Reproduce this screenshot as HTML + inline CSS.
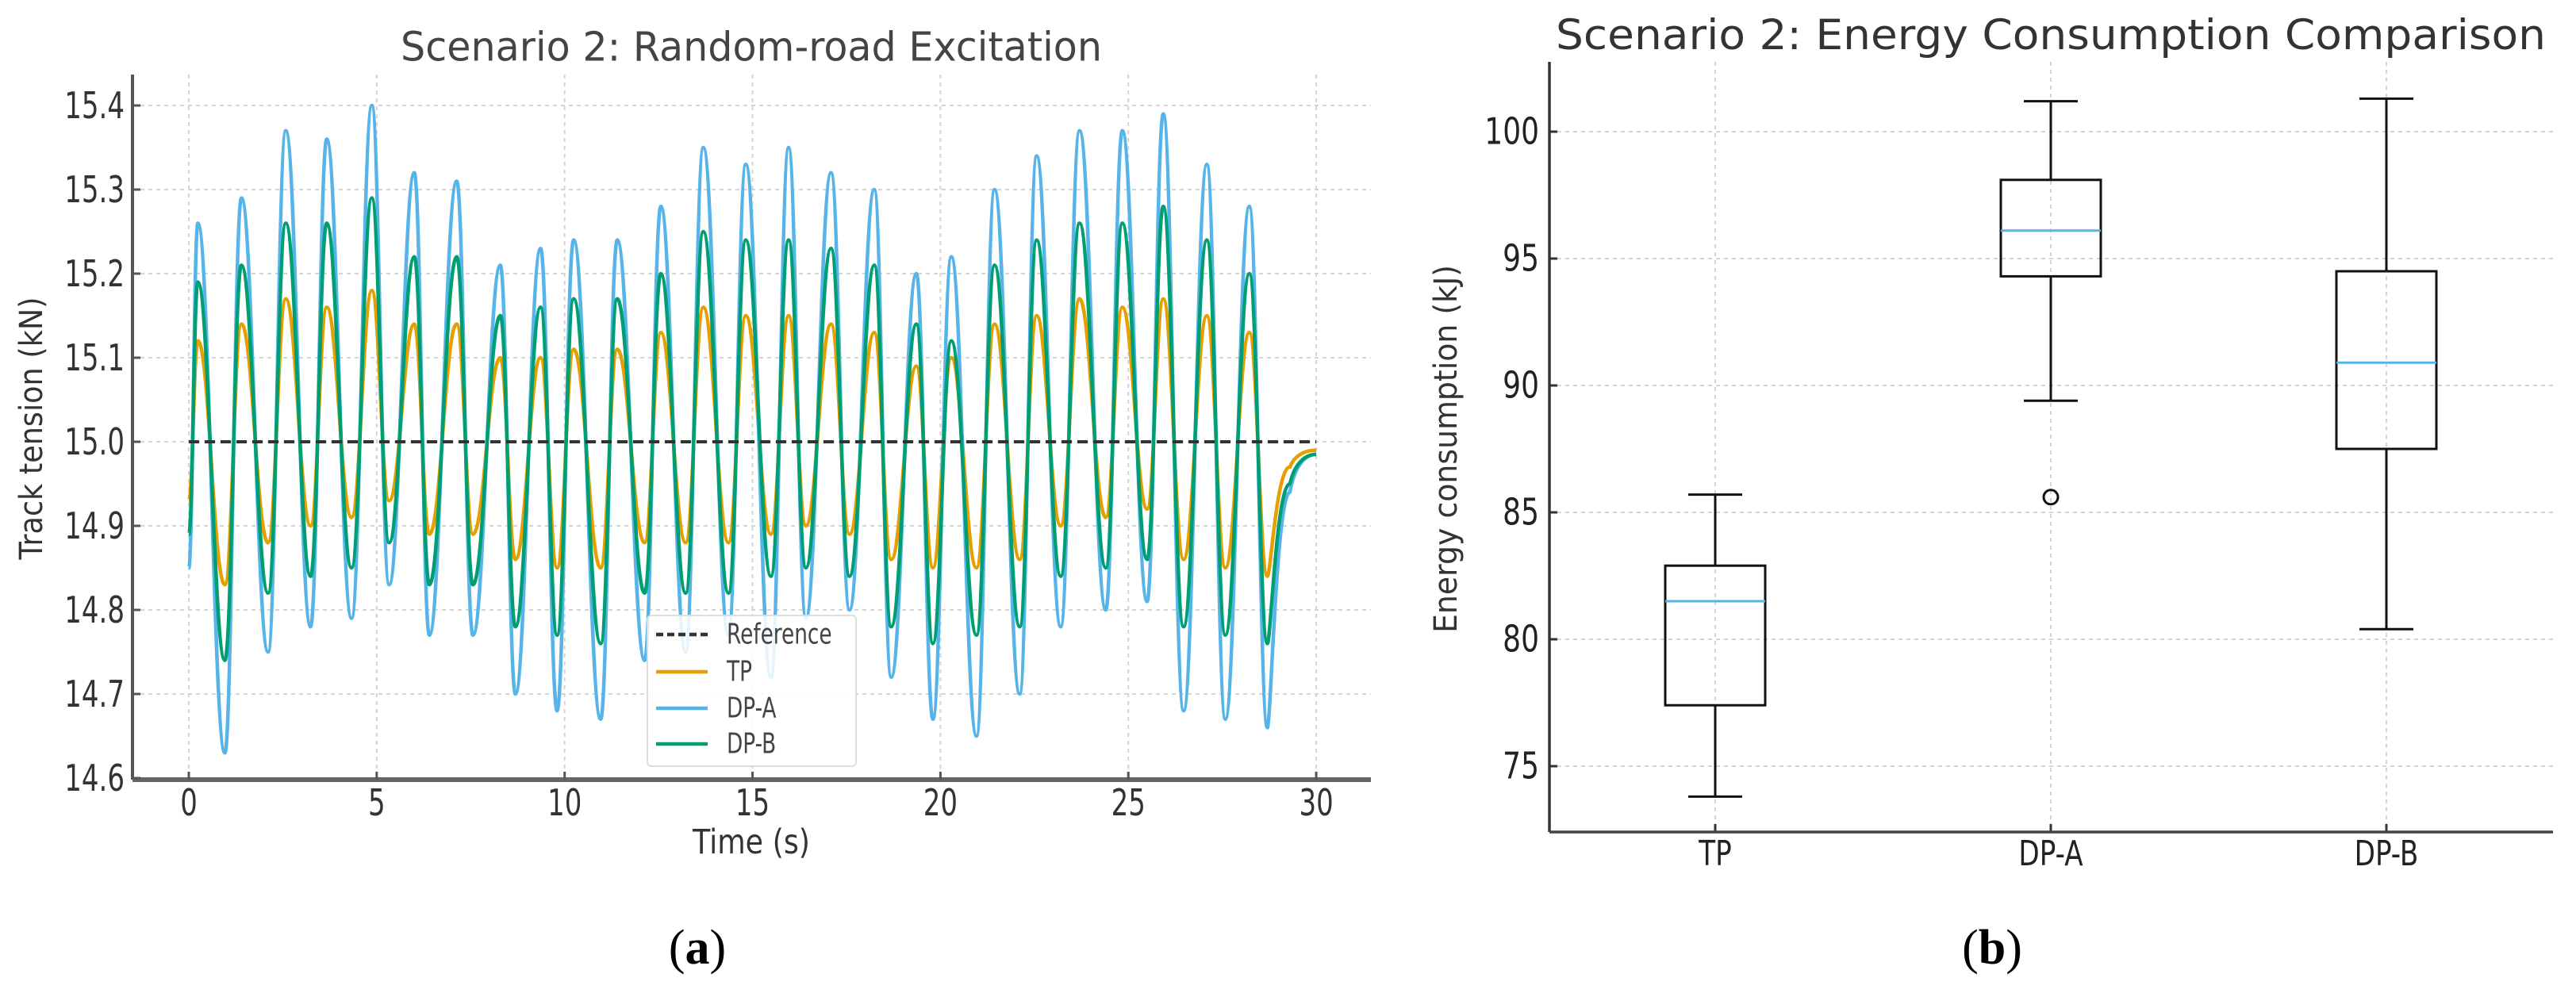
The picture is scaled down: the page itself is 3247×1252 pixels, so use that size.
<!DOCTYPE html>
<html><head><meta charset="utf-8"><style>
html,body{margin:0;padding:0;background:#fff;}
svg{display:block;}
</style></head><body>
<svg id="fig" width="3247" height="1252" viewBox="0 0 3247 1252" xmlns="http://www.w3.org/2000/svg" font-family="DejaVu Sans, Liberation Sans, sans-serif">
<g id="left"></g>
<g id="right"></g>
</svg>
<script>
// ---------- Chart (a) data ----------
const xTicksL = [0,5,10,15,20,25,30];
const yTicksL = [14.6,14.7,14.8,14.9,15.0,15.1,15.2,15.3,15.4];
const yTickLabelsL = ["14.6","14.7","14.8","14.9","15.0","15.1","15.2","15.3","15.4"];
const refValue = 15.0;
const peakTimes = [0.24,1.4,2.58,3.67,4.87,6.0,7.13,8.29,9.36,10.24,11.4,12.56,13.69,14.82,15.96,17.09,18.24,19.36,20.29,21.44,22.56,23.7,24.84,25.93,27.09,28.22];
const troughTimes = [0.96,2.11,3.24,4.33,5.33,6.4,7.56,8.69,9.8,10.96,12.13,13.22,14.36,15.49,16.42,17.58,18.69,19.8,20.96,22.11,23.2,24.4,25.5,26.47,27.58,28.7];
const tailTimes = [29.3,30];
const tpPeaks = [15.12,15.14,15.17,15.16,15.18,15.14,15.14,15.10,15.10,15.11,15.11,15.13,15.16,15.15,15.15,15.14,15.13,15.09,15.10,15.14,15.15,15.17,15.16,15.17,15.15,15.13];
const tpTroughs = [14.83,14.88,14.90,14.91,14.93,14.89,14.89,14.86,14.85,14.85,14.88,14.88,14.88,14.89,14.90,14.89,14.86,14.85,14.85,14.86,14.90,14.91,14.92,14.86,14.85,14.84];
const tpStart = 14.93, tpTail = [14.97,14.99];
const dpaPeaks = [15.26,15.29,15.37,15.36,15.40,15.32,15.31,15.21,15.23,15.24,15.24,15.28,15.35,15.33,15.35,15.32,15.30,15.20,15.22,15.30,15.34,15.37,15.37,15.39,15.33,15.28];
const dpaTroughs = [14.63,14.75,14.78,14.79,14.83,14.77,14.77,14.70,14.68,14.67,14.74,14.75,14.77,14.72,14.79,14.80,14.72,14.67,14.65,14.70,14.78,14.80,14.81,14.68,14.67,14.66];
const dpaStart = 14.85, dpaTail = [14.94,14.985];
const dpbPeaks = [15.19,15.21,15.26,15.26,15.29,15.22,15.22,15.15,15.16,15.17,15.17,15.20,15.25,15.24,15.24,15.23,15.21,15.14,15.12,15.21,15.24,15.26,15.26,15.28,15.24,15.20];
const dpbTroughs = [14.74,14.82,14.84,14.85,14.88,14.83,14.83,14.78,14.77,14.76,14.82,14.82,14.82,14.84,14.85,14.84,14.78,14.76,14.77,14.78,14.84,14.85,14.86,14.78,14.77,14.76];
const dpbStart = 14.89, dpbTail = [14.95,14.985];
// ---------- Chart (b) data ----------
const categories = ["TP","DP-A","DP-B"];
const whiskLo = [73.8,89.4,80.4];
const q1 = [77.4,94.3,87.5];
const med = [81.5,96.1,90.9];
const q3 = [82.9,98.1,94.5];
const whiskHi = [85.7,101.2,101.3];
const outliers = [[],[85.6],[]];
const yTicksR = [75,80,85,90,95,100];

const NS = "http://www.w3.org/2000/svg";
function mk(parent, tag, attrs){ const e=document.createElementNS(NS,tag); for(const k in attrs) e.setAttribute(k,attrs[k]); parent.appendChild(e); return e; }
function txt(parent, x, y, s, size, anchor, fill, sx, len){
  const a={'font-size':size,'text-anchor':anchor,fill:fill,'dominant-baseline':'central',
    transform:`translate(${x},${y}) scale(${sx||0.82},1.15)`};
  if(len){ a.textLength=len; a.lengthAdjust='spacingAndGlyphs'; }
  const e=mk(parent,'text',a);
  e.textContent=s; return e;
}
// ---------- Chart (a) ----------
const L = document.getElementById('left');
const xL = t => 238 + t*47.37;
const yL = v => 557 - (v-15)*1060;
const axL = {x0:167, x1:1728, y0:94, y1:983};
const gridL = mk(L,'g',{});


xTicksL.forEach(t=>{ mk(gridL,'line',{x1:xL(t),x2:xL(t),y1:axL.y0,y2:axL.y1,stroke:'#d4d4d4','stroke-width':2,'stroke-dasharray':'5,5'}); });
yTicksL.forEach(v=>{ mk(gridL,'line',{x1:axL.x0,x2:axL.x1,y1:yL(v),y2:yL(v),stroke:'#d4d4d4','stroke-width':2,'stroke-dasharray':'5,5'}); });
function buildPts(start,peaks,troughs,tail){
  const pts=[[0,start]];
  for(let i=0;i<peakTimes.length;i++){ pts.push([peakTimes[i],peaks[i]]); pts.push([troughTimes[i],troughs[i]]); }
  tailTimes.forEach((t,i)=>pts.push([t,tail[i]]));
  return pts;
}
function pathD(pts){
  let d=`M${xL(pts[0][0])},${yL(pts[0][1])}`;
  for(let i=1;i<pts.length;i++){
    const a=pts[i-1], b=pts[i]; const xa=xL(a[0]), xb=xL(b[0]), ya=yL(a[1]), yb=yL(b[1]);
    const dx=(xb-xa);
    if(i===pts.length-1){ d+=` C${xa+dx*0.15},${ya+(yb-ya)*0.6} ${xb-dx*0.5},${yb} ${xb},${yb}`; }
    else if(i===pts.length-2){ d+=` C${xa+dx*0.15},${ya} ${xb-dx*0.6},${yb} ${xb},${yb}`; }
    else d+=` C${xa+dx*0.42},${ya} ${xb-dx*0.42},${yb} ${xb},${yb}`;
  }
  return d;
}
const series = [
  {name:'tp-line', pts:buildPts(tpStart,tpPeaks,tpTroughs,tpTail), color:'#E69F00'},
  {name:'dp-a-line', pts:buildPts(dpaStart,dpaPeaks,dpaTroughs,dpaTail), color:'#56B4E9'},
  {name:'dp-b-line', pts:buildPts(dpbStart,dpbPeaks,dpbTroughs,dpbTail), color:'#009E73'}
];
series.forEach(s=>{
  const p=mk(L,'path',{d:pathD(s.pts),fill:'none',stroke:s.color,'stroke-width':4.5,'stroke-linejoin':'round'});
  
  
});
const ref = mk(L,'line',{x1:xL(0),x2:xL(30),y1:yL(refValue),y2:yL(refValue),stroke:'#333','stroke-width':4,'stroke-dasharray':'13,7'});


const spL=mk(L,'line',{x1:axL.x0,x2:axL.x0,y1:axL.y0,y2:axL.y1,stroke:'#555','stroke-width':4});


const spB=mk(L,'line',{x1:axL.x0,x2:axL.x1,y1:axL.y1,y2:axL.y1,stroke:'#666','stroke-width':6});


yTicksL.forEach((v,i)=>{
  mk(L,'line',{x1:axL.x0,x2:axL.x0+10,y1:yL(v),y2:yL(v),stroke:'#555','stroke-width':3});
  const t=txt(L,157,yL(v),yTickLabelsL[i],40,'end','#333',0.85);
  
  
});
xTicksL.forEach(v=>{
  mk(L,'line',{x1:xL(v),x2:xL(v),y1:axL.y1-10,y2:axL.y1,stroke:'#555','stroke-width':3});
  const t=txt(L,xL(v),1012,String(v),40,'middle','#333',0.85);
  
  
});
let tt=txt(L,947,60,'Scenario 2: Random-road Excitation',44,'middle','#444',1,884);


tt=txt(L,947,1062,'Time (s)',37,'middle','#333',1,148);


tt=mk(L,'text',{'font-size':40,'text-anchor':'middle',fill:'#333','dominant-baseline':'central',textLength:331,lengthAdjust:'spacingAndGlyphs',transform:'translate(40,540) rotate(-90)'});
tt.textContent='Track tension (kN)';


const lg=mk(L,'g',{});


mk(lg,'rect',{x:816,y:776,width:263,height:190,rx:5,fill:'#fff','fill-opacity':0.85,stroke:'#ddd','stroke-width':2});
const legItems=[['Reference','#333',true],['TP','#E69F00',false],['DP-A','#56B4E9',false],['DP-B','#009E73',false]];
const legY=[800,847,893,938];
legItems.forEach((it,i)=>{
  const g=mk(lg,'g',{});
  
  
  mk(g,'line',{x1:827,x2:892,y1:legY[i],y2:legY[i],stroke:it[1],'stroke-width':4.5,'stroke-dasharray':it[2]?'9,5':'none'});
  txt(g,916,legY[i],it[0],31,'start','#444',0.85);
});
tt=mk(L,'text',{x:879,y:1195,'font-size':62,'text-anchor':'middle','dominant-baseline':'central',fill:'#000','font-family':'Liberation Serif, serif'});
tt.innerHTML='(<tspan font-weight="bold">a</tspan>)';



// ---------- Chart (b) ----------
const R=document.getElementById('right');
const xR = i => 2162 + i*423;
const yR = v => 166 + (100-v)*32;
const axR={x0:1953,x1:3218,y0:78,y1:1049};
yTicksR.forEach(v=>{ mk(R,'line',{x1:axR.x0,x2:axR.x1,y1:yR(v),y2:yR(v),stroke:'#d4d4d4','stroke-width':2,'stroke-dasharray':'5,5'}); });
categories.forEach((c,i)=>{ mk(R,'line',{x1:xR(i),x2:xR(i),y1:axR.y0,y2:axR.y1,stroke:'#d4d4d4','stroke-width':2,'stroke-dasharray':'5,5'}); });
categories.forEach((c,i)=>{
  const g=mk(R,'g',{});
  
  
  const cx=xR(i), hw=63, cw=34;
  mk(g,'line',{x1:cx,x2:cx,y1:yR(whiskHi[i]),y2:yR(q3[i]),stroke:'#111','stroke-width':3});
  mk(g,'line',{x1:cx,x2:cx,y1:yR(q1[i]),y2:yR(whiskLo[i]),stroke:'#111','stroke-width':3});
  mk(g,'line',{x1:cx-cw,x2:cx+cw,y1:yR(whiskHi[i]),y2:yR(whiskHi[i]),stroke:'#111','stroke-width':3});
  mk(g,'line',{x1:cx-cw,x2:cx+cw,y1:yR(whiskLo[i]),y2:yR(whiskLo[i]),stroke:'#111','stroke-width':3});
  mk(g,'rect',{x:cx-hw,y:yR(q3[i]),width:2*hw,height:yR(q1[i])-yR(q3[i]),fill:'none',stroke:'#111','stroke-width':3});
  mk(g,'line',{x1:cx-hw,x2:cx+hw,y1:yR(med[i]),y2:yR(med[i]),stroke:'#56B4E9','stroke-width':3});
  outliers[i].forEach(o=>{
    const c2=mk(g,'circle',{cx:cx,cy:yR(o),r:9,fill:'none',stroke:'#111','stroke-width':3});
    
    
  });
  mk(R,'line',{x1:cx,x2:cx,y1:axR.y1-10,y2:axR.y1,stroke:'#333','stroke-width':3});
  const t=txt(R,cx,1077,c,38,'middle','#222',0.9);
  
  
});
let s1=mk(R,'line',{x1:axR.x0,x2:axR.x0,y1:axR.y0,y2:axR.y1,stroke:'#333','stroke-width':3.5});


s1=mk(R,'line',{x1:axR.x0,x2:axR.x1,y1:axR.y1,y2:axR.y1,stroke:'#444','stroke-width':3.5});


yTicksR.forEach(v=>{
  mk(R,'line',{x1:axR.x0,x2:axR.x0+10,y1:yR(v),y2:yR(v),stroke:'#333','stroke-width':3});
  const t=txt(R,1940,yR(v),String(v),40,'end','#222',0.9);
  
  
});
tt=txt(R,2585,44,'Scenario 2: Energy Consumption Comparison',46,'middle','#333',1,1248);


tt=mk(R,'text',{'font-size':40,'text-anchor':'middle',fill:'#333','dominant-baseline':'central',textLength:464,lengthAdjust:'spacingAndGlyphs',transform:'translate(1823,566) rotate(-90)'});
tt.textContent='Energy consumption (kJ)';


tt=mk(R,'text',{x:2511,y:1195,'font-size':62,'text-anchor':'middle','dominant-baseline':'central',fill:'#000','font-family':'Liberation Serif, serif'});
tt.innerHTML='(<tspan font-weight="bold">b</tspan>)';


</script>
</body></html>
